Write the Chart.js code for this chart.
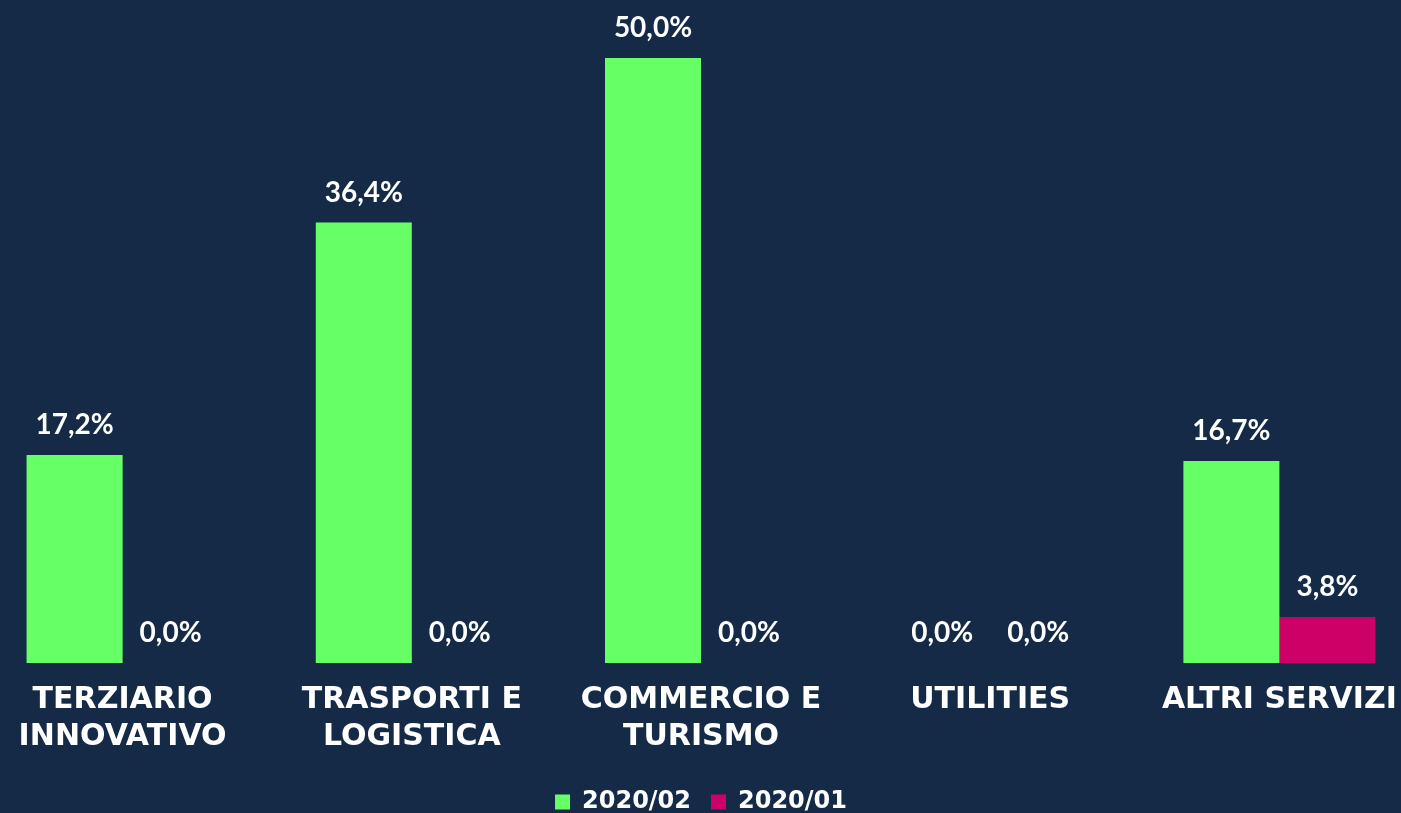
<!DOCTYPE html>
<html>
<head>
<meta charset="utf-8">
<script src="https://cdn.jsdelivr.net/npm/chart.js@4.4.0/dist/chart.umd.min.js"></script>
<style>
  html, body { margin: 0; padding: 0; background: #142a46; overflow: hidden; }
  body { width: 1401px; height: 813px; position: relative; }
  /* chart area runs slightly past both edges, like the original */
  .wrap { width: 1446px; height: 824px; position: absolute; left: -22px; top: 0; }
</style>
</head>
<body>
<div class="wrap"><canvas id="sectorChart"></canvas></div>
<script>
// Data
const categories = [
  ["TERZIARIO", "INNOVATIVO"],
  ["TRASPORTI E", "LOGISTICA"],
  ["COMMERCIO E", "TURISMO"],
  "UTILITIES",
  "ALTRI SERVIZI",
];
const series2020_02 = [17.2, 36.4, 50.0, 0.0, 16.7];
const series2020_01 = [0.0, 0.0, 0.0, 0.0, 3.8];
const seriesNames = ["2020/02", "2020/01"];

const numFont = "Lato, 'Open Sans', sans-serif";
const capsFont = "'DejaVu Sans', 'Open Sans', sans-serif";

// value labels above bars
const valueLabels = {
  id: "valueLabels",
  afterDatasetsDraw(chart) {
    const ctx = chart.ctx;
    ctx.save();
    ctx.fillStyle = "#ffffff";
    ctx.font = "bold 28px " + numFont;
    ctx.textAlign = "center";
    ctx.textBaseline = "middle";
    chart.data.datasets.forEach(function (ds, i) {
      const meta = chart.getDatasetMeta(i);
      meta.data.forEach(function (bar, j) {
        const txt = ds.data[j].toFixed(1).replace(".", ",") + "%";
        ctx.fillText(txt, bar.x, bar.y - 30);
      });
    });
    ctx.restore();
  },
};

const ctx = document.getElementById("sectorChart").getContext("2d");
const sectorChart = new Chart(ctx, {
  type: "bar",
  data: {
    labels: categories,
    datasets: [
      {
        label: seriesNames[0],
        data: series2020_02,
        backgroundColor: "#66ff66",
        categoryPercentage: 0.664,
        barPercentage: 1.0,
      },
      {
        label: seriesNames[1],
        data: series2020_01,
        backgroundColor: "#cc0066",
        categoryPercentage: 0.664,
        barPercentage: 1.0,
      },
    ],
  },
  options: {
    responsive: true,
    maintainAspectRatio: false,
    animation: false,
    layout: {
      padding: { top: 58, left: 0, right: 0, bottom: 0 },
    },
    plugins: {
      legend: {
        position: "bottom",
        labels: {
          color: "#ffffff",
          boxWidth: 15,
          boxHeight: 15,
          padding: 20,
          font: { family: capsFont, size: 24, weight: "bold" },
        },
      },
      tooltip: { enabled: false },
    },
    scales: {
      x: {
        grid: { display: false },
        border: { display: false },
        ticks: {
          color: "#ffffff",
          padding: 11,
          maxRotation: 0,
          autoSkip: false,
          font: { family: capsFont, size: 30, weight: "bold", lineHeight: 1.23 },
        },
        afterFit: function (scale) {
          scale.height = 107;
        },
      },
      y: {
        display: false,
        min: 0,
        max: 50,
      },
    },
  },
  plugins: [valueLabels],
});
</script>
</body>
</html>
